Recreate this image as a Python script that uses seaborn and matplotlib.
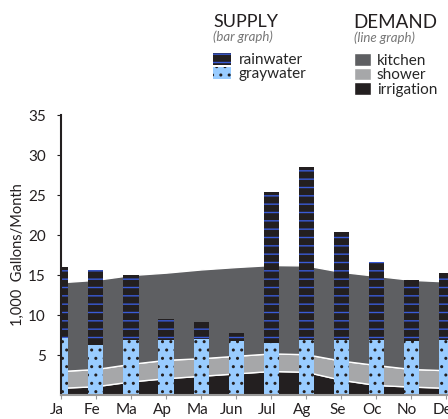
import numpy as np
import pandas as pd
import seaborn as sns
import matplotlib.pyplot as plt
import matplotlib.transforms as mtransforms
from matplotlib.patches import Patch

# month labels (two "Ma"s, so positions are kept separately)
months = ['Ja', 'Fe', 'Ma', 'Ap', 'Ma', 'Jun', 'Jul', 'Ag', 'Se', 'Oc', 'No', 'De']

# supply (bars), 1,000 gallons/month
rainwater = [8.9, 9.4, 8.1, 2.6, 2.1, 0.95, 18.9, 21.6, 13.5, 9.7, 7.6, 8.4]
graywater = [7.1, 6.2, 6.9, 6.9, 7.0, 6.8, 6.5, 6.9, 6.9, 6.9, 6.8, 6.9]

# demand (stacked areas)
irrigation = [0.9, 1.1, 1.7, 2.1, 2.4, 2.7, 3.0, 2.9, 1.9, 1.25, 1.05, 0.9]
shower = [2.1, 2.15, 2.2, 2.3, 2.2, 2.2, 2.2, 2.2, 2.4, 2.5, 2.2, 2.2]
kitchen = [11.1, 11.15, 11.1, 10.9, 11.1, 11.1, 11.05, 11.1, 11.1, 11.15, 11.15, 11.1]

df = pd.DataFrame({'pos': range(len(months)),
                   'rain': rainwater, 'gray': graywater})
df['total'] = df['rain'] + df['gray']

sns.set_style('ticks')
plt.rcParams['font.family'] = ['Lato', 'DejaVu Sans']
plt.rcParams['hatch.linewidth'] = 1.0

c_black = '#231f20'
c_kitchen = '#5e5f62'
c_shower = '#a6a7a9'
c_blue = '#3a5bd6'
c_light = '#99ccff'

fig = plt.figure(figsize=(4.48, 4.19), dpi=100)
ax = fig.add_axes([0.136, 0.0573, 0.864, 0.668])

# demand areas
ax.stackplot(df['pos'], irrigation, shower, kitchen,
             colors=[c_black, c_shower, c_kitchen], zorder=0.5)

# supply bars: total first (rainwater), graywater over it
sns.barplot(data=df, x='pos', y='total', color=c_black, saturation=1,
            width=0.43, hatch='--', edgecolor=c_blue, linewidth=0,
            errorbar=None, ax=ax)
sns.barplot(data=df, x='pos', y='gray', color=c_light, saturation=1,
            width=0.43, hatch='..', edgecolor=c_black, linewidth=0,
            errorbar=None, ax=ax)

ax.set_xlim(0, 11.05)
ax.set_ylim(0, 35)
ax.set_yticks(range(5, 36, 5))
ax.set_xticks(range(len(months)))
ax.set_xticklabels(months)
ax.set_xlabel('')
ax.set_ylabel('1,000  Gallons/Month', fontsize=10.5, color=c_black)
ax.yaxis.set_label_coords(-0.093, 0.502)
ax.tick_params(axis='both', labelsize=11, length=3, colors=c_black)
ax.tick_params(axis='y', pad=8)
ax.tick_params(axis='x', color='#999999', pad=3)
shift = mtransforms.ScaledTranslation(-4/100, 0, fig.dpi_scale_trans)
for lab in ax.get_xticklabels():
    lab.set_transform(lab.get_transform() + shift)
sns.despine(ax=ax)
ax.spines['left'].set_color(c_black)
ax.spines['left'].set_linewidth(1.5)
ax.spines['bottom'].set_color('#999999')
ax.spines['bottom'].set_linewidth(1.5)

# legend headers
fig.text(213/448, 1 - 27/419, 'SUPPLY', fontsize=13, color=c_black)
fig.text(213/448, 1 - 41/419, '(bar graph)', fontsize=9.5, style='italic', color='#777777')
fig.text(353/448, 1 - 28/419, 'DEMAND', fontsize=13.5, color=c_black)
fig.text(354/448, 1 - 42/419, '(line graph)', fontsize=9.5, style='italic', color='#777777')

supply_handles = [
    Patch(facecolor=c_black, edgecolor=c_blue, hatch='--', linewidth=0, label='rainwater'),
    Patch(facecolor=c_light, edgecolor=c_black, hatch='..', linewidth=0, label='graywater'),
]
demand_handles = [
    Patch(facecolor=c_kitchen, label='kitchen'),
    Patch(facecolor=c_shower, label='shower'),
    Patch(facecolor=c_black, label='irrigation'),
]
leg1 = fig.legend(handles=supply_handles, loc='upper left',
                  bbox_to_anchor=(213/448, 1 - 53/419), frameon=False,
                  fontsize=11, handlelength=1.2, handleheight=0.8,
                  handletextpad=0.5, labelspacing=0.0, borderpad=0,
                  borderaxespad=0)
leg2 = fig.legend(handles=demand_handles, loc='upper left',
                  bbox_to_anchor=(354/448, 1 - 53/419), frameon=False,
                  fontsize=11, handlelength=1.1, handleheight=0.9,
                  handletextpad=0.4, labelspacing=0.0, borderpad=0,
                  borderaxespad=0)

fig.savefig('out.png', dpi=100)
